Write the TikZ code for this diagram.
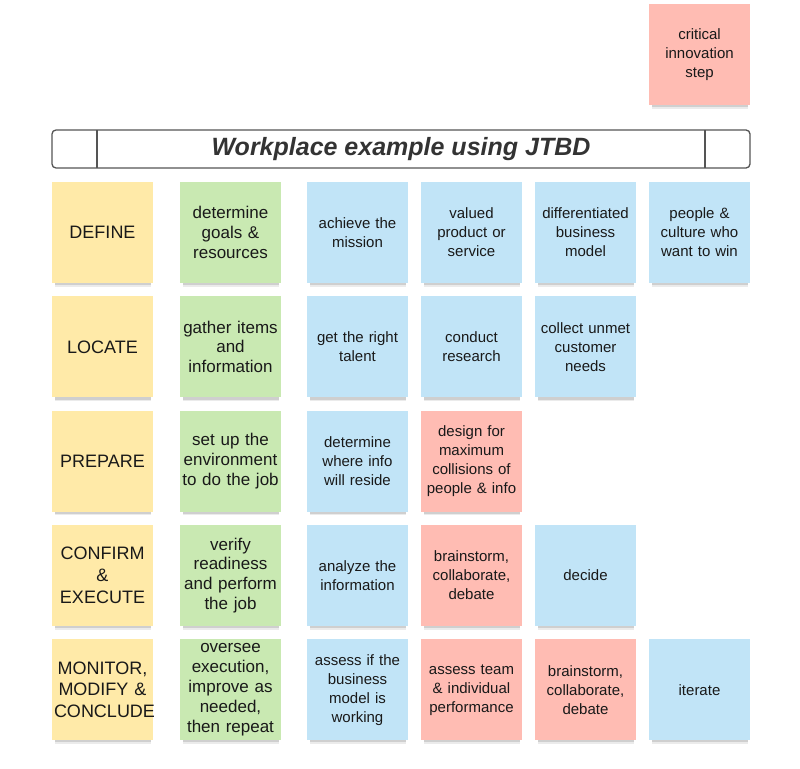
\documentclass[tikz,border=0pt]{standalone}
\usepackage{fontspec}
\setmainfont{Liberation Sans}
\usepackage{xcolor}
\usepackage{tikz}
\usetikzlibrary{positioning, shadows}

\definecolor{yellownote}{RGB}{255,234,168}
\definecolor{greennote}{RGB}{201,233,178}
\definecolor{bluenote}{RGB}{193,228,247}
\definecolor{pinknote}{RGB}{255,188,179}
\definecolor{barline}{RGB}{85,85,85}

\begin{document}
\begin{tikzpicture}[
    x=1pt, y=1pt,
    node distance=13.3pt and 13pt,
    note/.style={
        rectangle,
        minimum width=101pt,
        minimum height=101pt,
        text width=97pt,
        inner sep=2pt,
        outer sep=0pt,
        align=center,
        text=black!90,
        font=\fontsize{15}{19}\selectfont,
        drop shadow={shadow scale=0.95, shadow xshift=1pt, shadow yshift=-6.5pt, opacity=0.16},
        drop shadow={shadow scale=0.95, shadow xshift=1pt, shadow yshift=-5pt, opacity=0.26}
    },
    stage/.style={note, fill=yellownote, font=\fontsize{18}{21.7}\selectfont},
    job/.style={note, fill=greennote, font=\fontsize{17}{19.8}\selectfont},
    task/.style={note, fill=bluenote},
    critical/.style={note, fill=pinknote},
    titlebar/.style={
        rectangle,
        rounded corners=4pt,
        draw=barline,
        line width=1.3pt,
        outer sep=0pt,
        fill=white,
        minimum width=698pt,
        minimum height=38pt,
        text=black!80,
        font=\fontsize{25}{30}\selectfont\bfseries\itshape
    },
    barline/.style={draw=barline, line width=1.3pt}
]
\useasboundingbox (0,0) rectangle (800,-768);

\node[stage] (define) at (102.5,-232.5) {DEFINE};
\node[job, right=27pt of define] (goals) {determine\\goals \&\\resources};
\node[task, right=26pt of goals] (mission) {achieve the\\mission};
\node[task, right=of mission] (product) {valued\\product or\\service};
\node[task, right=of product] (bizmodel) {differentiated\\business\\model};
\node[task, right=of bizmodel] (culture) {people \&\\culture who\\want to win};

\node[stage, below=of define] (locate) {LOCATE};
\node[job, right=27pt of locate] (gather) {gather items\\and\\information};
\node[task, right=26pt of gather] (talent) {get the right\\talent};
\node[task, right=of talent] (research) {conduct\\research};
\node[task, right=of research] (needs) {collect unmet\\customer\\needs};

\node[stage, below=of locate] (prepare) {PREPARE};
\node[job, right=27pt of prepare] (setup) {set up the\\environment\\to do the job};
\node[task, right=26pt of setup] (reside) {determine\\where info\\will reside};
\node[critical, right=of reside] (collisions) {design for\\maximum\\collisions of\\people \& info};

\node[stage, below=of prepare] (confirm) {CONFIRM\\\&\\EXECUTE};
\node[job, right=27pt of confirm] (verify) {verify\\readiness\\and perform\\the job};
\node[task, right=26pt of verify] (analyze) {analyze the\\information};
\node[critical, right=of analyze] (brainstorm) {brainstorm,\\collaborate,\\debate};
\node[task, right=of brainstorm] (decide) {decide};

\node[stage, below=of confirm] (monitor) {MONITOR,\\MODIFY \&\\CONCLUDE};
\node[job, right=27pt of monitor] (oversee) {oversee\\execution,\\improve as\\needed,\\then repeat};
\node[task, right=26pt of oversee] (assess) {assess if the\\business\\model is\\working};
\node[critical, right=of assess] (team) {assess team\\\& individual\\performance};
\node[critical, right=of team] (debate) {brainstorm,\\collaborate,\\debate};
\node[task, right=of debate] (iterate) {iterate};

\node[titlebar] (title) at (401,-149) {Workplace example using JTBD};
\draw[barline] ([xshift=45pt]title.north west) -- ([xshift=45pt]title.south west);
\draw[barline] ([xshift=-45pt]title.north east) -- ([xshift=-45pt]title.south east);

\node[critical, anchor=south east] (innovation) at ([yshift=25pt]title.north east) {critical\\innovation\\step};

\end{tikzpicture}
\end{document}
